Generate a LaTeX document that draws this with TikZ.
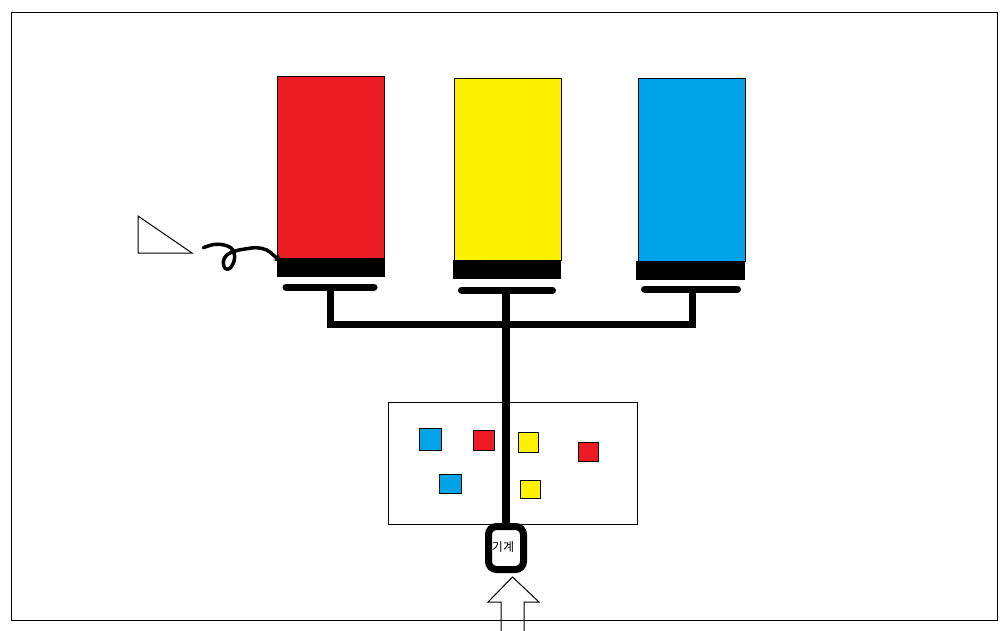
\documentclass[tikz,border=0pt]{standalone}
\usepackage{fontspec}
\newfontfamily\krfont{Noto Sans CJK KR}
\usetikzlibrary{arrows.meta}
\definecolor{pred}{HTML}{ED1C24}
\definecolor{pyellow}{HTML}{FFF200}
\definecolor{pblue}{HTML}{00A2E8}
\tikzset{
  tank/.style={draw=black,line width=1pt,inner sep=0pt,anchor=north west,minimum width=107pt,minimum height=182pt},
  base/.style={fill=black,inner sep=0pt,anchor=north west,minimum width=108pt,minimum height=19pt},
  pill/.style={line width=7pt,line cap=round},
  pipe/.style={line width=7pt},
  sq/.style={draw=black,line width=1pt,inner sep=0pt,anchor=north west},
  thin/.style={line width=1pt},
}
\begin{document}
\begin{tikzpicture}[x=1pt,y=-1pt]
\useasboundingbox (0,0) rectangle (1008,630);
\fill[white] (0,0) rectangle (1008,630);
% tanks
\node[tank,fill=pred] (rt) at (277,76) {};
\node[base] (rb) at (276.5,258) {};
\node[tank,fill=pyellow,minimum height=182pt] (yt) at (453.5,78) {};
\node[base] (yb) at (453,260) {};
\node[tank,fill=pblue,minimum height=183pt] (bt) at (637.5,78) {};
\node[base,minimum width=109pt] (bb) at (636,261) {};
% pills
\coordinate (rp1) at (286,287); \coordinate (rp2) at (374,287);
\coordinate (yp1) at (461.5,290); \coordinate (yp2) at (552.5,290);
\coordinate (bp1) at (644.5,289); \coordinate (bp2) at (737.5,289);
\draw[pill] (rp1) -- (rp2);
\draw[pill] (yp1) -- (yp2);
\draw[pill] (bp1) -- (bp2);
% box
\node[draw=black,thin,inner sep=0pt,anchor=north west,minimum width=249pt,minimum height=122pt] (box) at (388,402) {};
% squares
\node[sq,fill=pblue,minimum width=22pt,minimum height=22pt] (s1) at (419.3,428.3) {};
\node[sq,fill=pred,minimum width=21pt,minimum height=20pt] (s2) at (473.3,430.3) {};
\node[sq,fill=pyellow,minimum width=20pt,minimum height=20pt] (s3) at (518.3,432.3) {};
\node[sq,fill=pred,minimum width=20pt,minimum height=19pt] (s4) at (578.3,442.3) {};
\node[sq,fill=pblue,minimum width=22pt,minimum height=19pt] (s5) at (439.3,474.3) {};
\node[sq,fill=pyellow,minimum width=20pt,minimum height=18pt] (s6) at (520.3,480.3) {};
% pipes
\coordinate (rs) at (330,287);
\coordinate (bs) at (692,289);
\coordinate (jl) at (330,324);
\coordinate (jr) at (692,324);
\coordinate (ys) at (506,290);
\draw[pipe,line join=miter] (rs) -- (jl) -- (jr) -- (bs);
% device
\node[draw=black,line width=7pt,fill=white,rounded corners=8pt,minimum width=35pt,minimum height=43pt,inner sep=0pt] (dev) at (506,548) {};
\draw[line width=8pt] (ys) -- (dev.north);
\node[font=\krfont\fontsize{12}{14}\selectfont,inner sep=0pt] (devlbl) at (503,547) {기계};
% hollow arrow
\coordinate (atip) at (512.5,577);
\draw[thin] (501,632) -- (501,602) -- (488,602) -- (atip) -- (539,602) -- (524,602) -- (524,632);
% triangle
\draw[thin] (138,216) -- (138,253) -- (192,253) -- cycle;
% squiggle
\draw[line width=3.5pt,line cap=round,line join=round,-{Stealth[length=7pt,width=8pt]}]
  plot[smooth,tension=0.6] coordinates {(203.3,247.7) (215,244.3) (226.7,245.7) (233.3,250.5) (234.3,260) (230,268.3) (225,268.3) (223.3,261.7) (226.7,255) (235,251) (245,249) (256.7,247.7) (266.7,250) (273.3,255) (281,262)};
% frame
\draw[thin] (11,12) rectangle (997,620);
\end{tikzpicture}
\end{document}
